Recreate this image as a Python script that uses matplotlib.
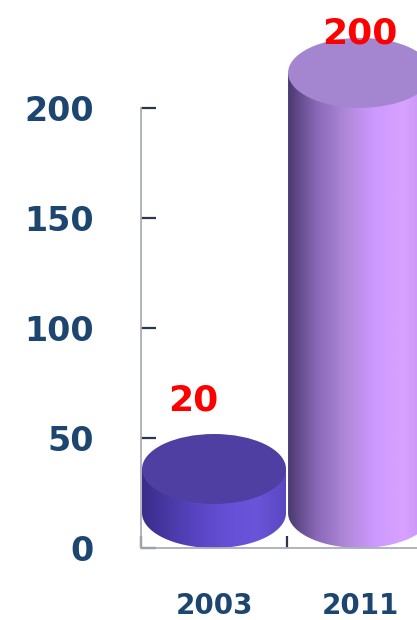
import numpy as np
import matplotlib.pyplot as plt
from matplotlib.patches import Ellipse, PathPatch
from matplotlib.path import Path
from matplotlib.colors import LinearSegmentedColormap

# dados
years = ['2003', '2011']
values = [20, 200]

# cores de cada cilindro: lateral (gradiente) e tampa
side_colors = [
    ['#3a2c88', '#4a3aa8', '#5a46c4', '#6650d6', '#6a54da', '#5a48c0'],
    ['#4a3a70', '#8a68b8', '#b088d8', '#cc99ff', '#d8a2ff', '#c48ef4'],
]
top_colors = ['#4f3fa2', '#a386cf']
label_dx = [-0.14, 0.0]

bar_w = 0.986
ell_h = 31.8  # altura da elipse em unidades do eixo y
y_max = 249

fig = plt.figure(figsize=(4.17, 6.2), dpi=100)
ax = fig.add_axes([141 / 417, 72 / 620, 276 / 417, 548 / 620])
ax.set_xlim(-0.5, 1.39)
ax.set_ylim(0, y_max)

for i, (yr, v) in enumerate(zip(years, values)):
    x0 = i - bar_w / 2
    x1 = i + bar_w / 2
    y_bot = ell_h / 2
    y_top = y_bot + v

    # lateral do cilindro: retangulo + metade de baixo da elipse
    t = np.linspace(np.pi, 2 * np.pi, 60)
    arc = np.column_stack([i + bar_w / 2 * np.cos(t), y_bot + ell_h / 2 * np.sin(t)])
    verts = [(x0, y_top), (x0, y_bot)] + [tuple(p) for p in arc] + [(x1, y_bot), (x1, y_top), (x0, y_top)]
    codes = [Path.MOVETO] + [Path.LINETO] * (len(verts) - 2) + [Path.CLOSEPOLY]
    clip = PathPatch(Path(verts, codes), facecolor='none', edgecolor='none')
    ax.add_patch(clip)

    cmap = LinearSegmentedColormap.from_list('lado%d' % i, side_colors[i])
    grad = np.linspace(0, 1, 256).reshape(1, -1)
    im = ax.imshow(grad, cmap=cmap, aspect='auto', origin='lower',
                   extent=[x0, x1, 0, y_top], zorder=2, interpolation='bilinear')
    im.set_clip_path(clip)

    # tampa
    ax.add_patch(Ellipse((i, y_top), bar_w, ell_h, facecolor=top_colors[i],
                         edgecolor='none', zorder=3))

    # rotulo de valor
    ly = min(v + 47, y_max - 15)
    ax.text(i + label_dx[i], ly, str(v), color='#ff0000', fontsize=26,
            fontweight='bold', ha='center', va='center', zorder=5)

# eixos
for s in ['top', 'right']:
    ax.spines[s].set_visible(False)
ax.spines['left'].set_bounds(0, 200)
ax.spines['left'].set_color('#a8aeb8')
ax.spines['bottom'].set_color('#a8aeb8')
ax.spines['left'].set_linewidth(1.3)
ax.spines['bottom'].set_linewidth(1.3)

ax.set_yticks([0, 50, 100, 150, 200])
ax.tick_params(axis='y', direction='in', length=11, width=1.6, color='#2a3550',
               pad=34, labelsize=24, labelcolor='#1c4670')

ax.set_xticks([-0.5, 0.5])
ax.set_xticklabels([])
ax.set_xticks([0, 1], minor=True)
ax.set_xticklabels(years, minor=True)
ax.tick_params(axis='x', which='major', direction='in', length=9, width=1.6, color='#2a3550')
ax.tick_params(axis='x', which='minor', length=0, pad=32, labelsize=20, labelcolor='#1c4670')

for lab in ax.get_yticklabels() + ax.get_xticklabels(minor=True):
    lab.set_fontweight('bold')

fig.savefig('out.png', dpi=100)
